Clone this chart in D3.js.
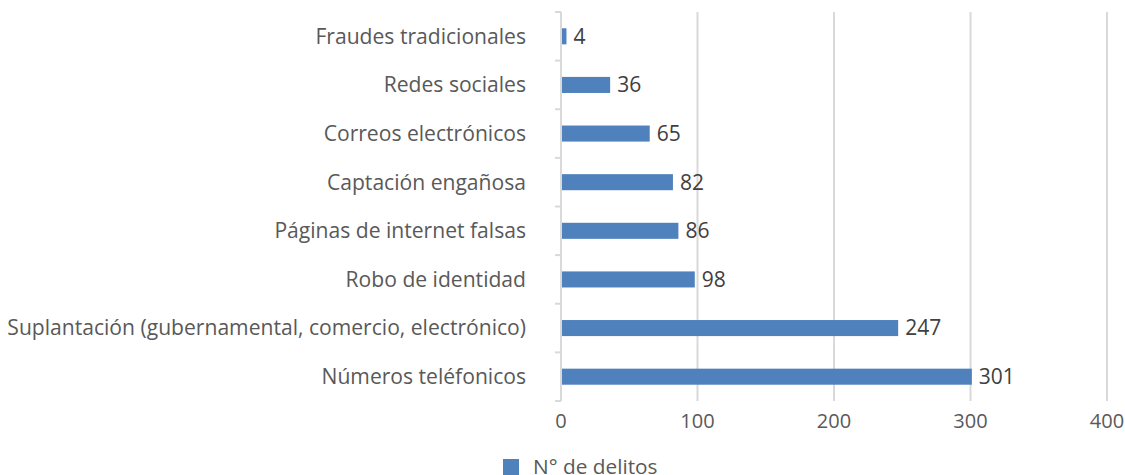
<!DOCTYPE html>
<html>
<head>
<meta charset="utf-8">
<script src="https://cdn.jsdelivr.net/npm/d3@7"></script>
<style>
  html, body { margin: 0; background: #fff; overflow: hidden; }
  svg { display: block; font-family: "Open Sans", "Noto Sans", sans-serif; }
  .cat { fill: #595959; font-size: 21.1px; }
  .val { fill: #404040; font-size: 21px; }
  .tick-lbl { fill: #595959; font-size: 20px; }
  .leg { fill: #595959; font-size: 20.8px; }
</style>
</head>
<body>
<svg id="chart"></svg>
<script>
const categories = [
  "Fraudes tradicionales",
  "Redes sociales",
  "Correos electrónicos",
  "Captación engañosa",
  "Páginas de internet falsas",
  "Robo de identidad",
  "Suplantación (gubernamental, comercio, electrónico)",
  "Números teléfonicos",
];
const values = [4, 36, 65, 82, 86, 98, 247, 301];
const xTicks = [0, 100, 200, 300, 400];
const seriesName = "N° de delitos";

const width = 1125;
const height = 475;
const margin = { top: 12, right: 18, bottom: 74, left: 561 };
const innerWidth = width - margin.left - margin.right;
const innerHeight = height - margin.top - margin.bottom;
const barColor = "#4f81bd";

const svg = d3.select("#chart").attr("width", width).attr("height", height);
const root = svg.append("g").attr("transform", `translate(${margin.left},${margin.top})`);

const xScale = d3.scaleLinear().domain([0, 400]).range([0, innerWidth]);
const yScale = d3.scaleBand().domain(categories).range([0, innerHeight]).paddingInner(0.67).paddingOuter(0.335);

// grid
root.append("g")
  .selectAll("line")
  .data(xTicks.filter((d) => d > 0))
  .join("line")
  .attr("x1", (d) => xScale(d))
  .attr("x2", (d) => xScale(d))
  .attr("y1", 0)
  .attr("y2", innerHeight)
  .attr("stroke", "#d9d9d9")
  .attr("stroke-width", 2);

// x tick labels
root.append("g")
  .selectAll("text")
  .data(xTicks)
  .join("text")
  .attr("class", "tick-lbl")
  .attr("x", (d) => xScale(d))
  .attr("y", innerHeight + 27)
  .attr("text-anchor", "middle")
  .text((d) => d);

// bars
root.append("g")
  .selectAll("rect")
  .data(values)
  .join("rect")
  .attr("x", 0)
  .attr("y", (d, i) => yScale(categories[i]))
  .attr("width", (d) => xScale(d))
  .attr("height", yScale.bandwidth())
  .attr("fill", barColor);

// value labels
root.append("g")
  .selectAll("text")
  .data(values)
  .join("text")
  .attr("class", "val")
  .attr("x", (d) => xScale(d) + 7)
  .attr("y", (d, i) => yScale(categories[i]) + yScale.bandwidth() / 2)
  .attr("dy", "0.35em")
  .text((d) => d);

// y axis line + ticks at band boundaries
const step = yScale.step();
const axisG = root.append("g");
axisG.append("line")
  .attr("x1", 0).attr("x2", 0)
  .attr("y1", 0).attr("y2", innerHeight)
  .attr("stroke", "#d9d9d9").attr("stroke-width", 2);
axisG.selectAll("line.tk")
  .data(d3.range(categories.length + 1))
  .join("line")
  .attr("class", "tk")
  .attr("x1", -6).attr("x2", 0)
  .attr("y1", (d) => d * step)
  .attr("y2", (d) => d * step)
  .attr("stroke", "#d9d9d9").attr("stroke-width", 2);

// category labels
root.append("g")
  .selectAll("text")
  .data(categories)
  .join("text")
  .attr("class", "cat")
  .attr("x", -35)
  .attr("y", (d) => yScale(d) + yScale.bandwidth() / 2)
  .attr("dy", "0.35em")
  .attr("text-anchor", "end")
  .text((d) => d);

// legend
const legend = svg.append("g").attr("transform", "translate(503,459)");
legend.append("rect").attr("width", 16).attr("height", 16).attr("fill", barColor);
legend.append("text")
  .attr("class", "leg")
  .attr("x", 30)
  .attr("y", 8)
  .attr("dy", "0.35em")
  .text(seriesName);
</script>
</body>
</html>
